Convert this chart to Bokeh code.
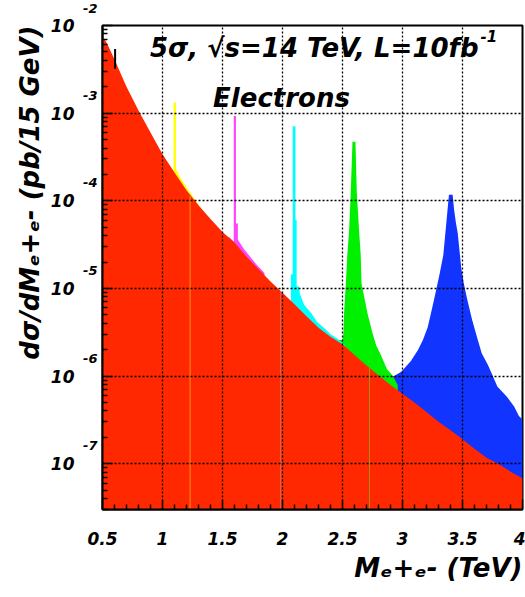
from bokeh.plotting import figure
from bokeh.models import Range1d, FixedTicker, Label, LogAxis, Title
from bokeh.embed import file_html
from bokeh.resources import INLINE

# ---------------- values ----------------
# Drell-Yan background (red), mass in TeV, dsigma/dM in pb / 15 GeV
bg_mass = [0.50, 0.515, 0.54, 0.60, 0.70, 0.80, 0.90, 1.00, 1.10, 1.20, 1.30, 1.40,
           1.50, 1.60, 1.70, 1.80, 1.90, 2.00, 2.10, 2.20, 2.30, 2.40, 2.50, 2.60,
           2.70, 2.80, 2.90, 3.00, 3.10, 3.20, 3.30, 3.40, 3.50, 3.60, 3.70, 3.80,
           3.90, 4.00]
bg_xsec = [7.08e-3, 7.08e-3, 6.17e-3, 4.1e-3, 2.0e-3, 1.07e-3, 6.0e-4, 3.4e-4,
           2.1e-4, 1.32e-4, 8.9e-5, 6.2e-5, 4.4e-5, 3.35e-5, 2.3e-5, 1.66e-5,
           1.2e-5, 8.9e-6, 6.6e-6, 4.8e-6, 3.55e-6, 2.8e-6, 2.3e-6, 1.74e-6,
           1.32e-6, 1.02e-6, 7.9e-7, 6.3e-7, 5.0e-7, 3.9e-7, 3.0e-7, 2.4e-7,
           1.9e-7, 1.48e-7, 1.17e-7, 1.0e-7, 8.1e-8, 6.8e-8]

# signal + background, 1.1 TeV resonance (yellow)
m11_mass = [1.05, 1.093, 1.093, 1.112, 1.112, 1.15, 1.20, 1.25, 1.30]
m11_xsec = [2.6e-4, 2.2e-4, 1.32e-3, 1.32e-3, 2.3e-4, 1.82e-4, 1.43e-4, 1.13e-4, 9.1e-5]

# 1.6 TeV resonance (magenta)
m16_mass = [1.55, 1.594, 1.594, 1.612, 1.612, 1.628, 1.628, 1.68, 1.735, 1.79, 1.85]
m16_xsec = [3.9e-5, 3.4e-5, 9.3e-4, 9.3e-4, 5.5e-5, 5.5e-5, 3.6e-5, 2.8e-5, 2.25e-5,
            1.82e-5, 1.5e-5]

# 2.1 TeV resonance (cyan)
m21_mass = [2.00, 2.070, 2.070, 2.085, 2.085, 2.108, 2.108, 2.118, 2.118, 2.138,
            2.145, 2.18, 2.24, 2.29, 2.35, 2.40, 2.47, 2.52]
m21_xsec = [8.9e-6, 7.1e-6, 1.45e-5, 1.45e-5, 7.1e-4, 7.1e-4, 6.0e-5, 6.0e-5, 1.05e-5,
            1.05e-5, 8.7e-6, 6.5e-6, 5.2e-6, 4.1e-6, 3.5e-6, 3.0e-6, 2.6e-6, 2.24e-6]

# 2.6 TeV resonance (green)
m26_mass = [2.45, 2.50, 2.508, 2.513, 2.528, 2.54, 2.555, 2.569, 2.583, 2.608, 2.619,
            2.638, 2.652, 2.658, 2.708, 2.75, 2.78, 2.82, 2.87, 2.92, 2.96]
m26_xsec = [2.57e-6, 2.57e-6, 3.1e-6, 5.2e-6, 1.15e-5, 2.4e-5, 4.6e-5, 1.26e-4,
            4.7e-4, 4.7e-4, 1.26e-4, 4.6e-5, 2.4e-5, 1.15e-5, 5.2e-6, 3.1e-6, 2.24e-6,
            1.74e-6, 1.2e-6, 1.0e-6, 7.9e-7]

# 3.4 TeV resonance (blue)
m34_mass = [2.80, 2.93, 2.99, 3.07, 3.13, 3.17, 3.21, 3.25, 3.28, 3.31, 3.34, 3.36,
            3.375, 3.387, 3.418, 3.43, 3.445, 3.46, 3.49, 3.51, 3.54, 3.58, 3.62,
            3.66, 3.71, 3.75, 3.79, 3.87, 3.93, 3.97, 4.00]
m34_xsec = [1.0e-6, 1.0e-6, 1.12e-6, 1.48e-6, 2.0e-6, 2.57e-6, 3.6e-6, 6.2e-6, 9.5e-6,
            1.48e-5, 2.4e-5, 4.7e-5, 7.8e-5, 1.17e-4, 1.17e-4, 7.9e-5, 5.6e-5, 4.3e-5,
            1.7e-5, 1.15e-5, 7.4e-6, 4.4e-6, 2.8e-6, 1.82e-6, 1.35e-6, 1.02e-6, 7.6e-7,
            5.8e-7, 4.5e-7, 3.5e-7, 3.2e-7]

# small error bar on the first bins and thin stray bin lines
errbar_mass = [0.605]
errbar_lo = [3.2e-3]
errbar_hi = [5.4e-3]
stray_mass = [1.23, 1.985, 2.725]
stray_top = [1.13e-4, 9.3e-6, 1.3e-6]
stray_color = ["#ff9a1a", "#c07a70", "#9a9a20"]

x_ticks = [0.5, 1.0, 1.5, 2.0, 2.5, 3.0, 3.5, 4.0]
x_tick_labels = ["0.5", "1", "1.5", "2", "2.5", "3", "3.5", "4"]
x_minor = [0.6, 0.7, 0.8, 0.9, 1.1, 1.2, 1.3, 1.4, 1.6, 1.7, 1.8, 1.9, 2.1, 2.2,
           2.3, 2.4, 2.6, 2.7, 2.8, 2.9, 3.1, 3.2, 3.3, 3.4, 3.6, 3.7, 3.8, 3.9]
y_ticks = [1e-2, 1e-3, 1e-4, 1e-5, 1e-6, 1e-7]
y_tick_base = "10"
y_tick_exponents = ["-2", "-3", "-4", "-5", "-6", "-7"]
y_minor_mantissa = [2, 3, 4, 5, 6, 7, 8, 9]
y_minor_decades = [-8, -7, -6, -5, -4, -3]

title_text = "5\u03c3, \u221as=14 TeV, L=10fb"
title_sup = "-1"
channel_text = "Electrons"
x_title = "M\u2091+\u2091- (TeV)"
y_title = "d\u03c3/dM\u2091+\u2091- (pb/15 GeV)"

x_lo, x_hi = 0.5, 4.0
y_lo, y_hi = 3.0e-8, 1.0e-2
floor = 1e-9

# ---------------- figure ----------------
p = figure(width=525, height=597, y_axis_type="log",
           x_range=Range1d(x_lo, x_hi), y_range=Range1d(y_lo, y_hi),
           output_backend="svg", toolbar_location=None,
           min_border_left=102, min_border_right=3,
           min_border_top=25, min_border_bottom=88)
p.background_fill_color = "white"
p.border_fill_color = "white"
p.outline_line_color = "black"
p.outline_line_width = 2

# filled histograms: signal+background first, background on top
fills = [(m34_mass, m34_xsec, "#1234ff"),
         (m26_mass, m26_xsec, "#00f000"),
         (m21_mass, m21_xsec, "#00ffff"),
         (m16_mass, m16_xsec, "#ff44ff"),
         (m11_mass, m11_xsec, "#ffff00"),
         (bg_mass, bg_xsec, "#ff2800")]
for mass, xs, col in fills:
    p.varea(x=mass, y1=[floor] * len(mass), y2=xs, fill_color=col)

p.segment(x0=stray_mass, y0=[y_lo] * len(stray_mass), x1=stray_mass, y1=stray_top,
          line_color=stray_color, line_width=1, line_alpha=0.9)
p.segment(x0=errbar_mass, y0=errbar_lo, x1=errbar_mass, y1=errbar_hi,
          line_color="black", line_width=2)

# ---------------- axes ----------------
FONT = "DejaVu Sans"
p.xaxis.ticker = FixedTicker(ticks=x_ticks, minor_ticks=x_minor)
p.xaxis.major_label_overrides = {t: lab for t, lab in zip(x_ticks, x_tick_labels)}
p.xaxis.major_label_standoff = 22

y_minor = [m * 10.0 ** d for d in y_minor_decades for m in y_minor_mantissa]
# inner left axis: ticks + raised exponents
p.yaxis.ticker = FixedTicker(ticks=y_ticks, minor_ticks=y_minor)
p.yaxis.major_label_overrides = {t: e + "\n\n" for t, e in zip(y_ticks, y_tick_exponents)}
p.yaxis.major_label_standoff = 5

for ax in (p.xaxis[0], p.yaxis[0]):
    ax.axis_line_color = "black"
    ax.axis_line_width = 2
    ax.major_tick_in = 10
    ax.major_tick_out = 0
    ax.minor_tick_in = 5
    ax.minor_tick_out = 0
    ax.major_tick_line_color = "black"
    ax.minor_tick_line_color = "black"
    ax.major_tick_line_width = 1.5
    ax.minor_tick_line_width = 1.5
    ax.major_label_text_font = FONT
    ax.major_label_text_font_style = "bold italic"
    ax.major_label_text_font_size = "17px"
    ax.major_label_text_color = "black"
p.yaxis.major_label_text_font_size = "13px"

# outer left axis: the "10" of each power
ten_axis = LogAxis(ticker=FixedTicker(ticks=y_ticks),
                   major_label_overrides={t: y_tick_base for t in y_ticks},
                   major_label_standoff=0,
                   major_label_text_font=FONT,
                   major_label_text_font_style="bold italic",
                   major_label_text_font_size="17px",
                   major_label_text_color="black",
                   axis_line_color=None, major_tick_line_color=None,
                   minor_tick_line_color=None)
p.add_layout(ten_axis, "left")

# axis titles, right / top aligned as in the reference
p.add_layout(Title(text=x_title, align="right", standoff=6,
                   text_font=FONT, text_font_style="bold italic",
                   text_font_size="26px", text_color="black"), "below")
p.add_layout(Title(text=y_title, align="right", standoff=6,
                   text_font=FONT, text_font_style="bold italic",
                   text_font_size="26px", text_color="black"), "left")

p.xgrid.ticker = FixedTicker(ticks=x_ticks)
p.ygrid.ticker = FixedTicker(ticks=y_ticks)
for g in (p.xgrid[0], p.ygrid[0]):
    g.grid_line_color = "black"
    g.grid_line_width = 1.3
    g.grid_line_dash = "2 2"
    g.level = "overlay"

# ---------------- texts inside the frame (canvas pixel positions) ----------------


def put(text, cx, cy, size, align="left"):
    p.add_layout(Label(x=cx, y=cy, x_units="canvas", y_units="canvas",
                       text=text, text_font=FONT, text_font_style="bold italic",
                       text_font_size=f"{size}px", text_align=align,
                       text_baseline="alphabetic", text_color="black"))


put(title_text, 478, 47, 26, align="right")
put(title_sup, 480, 35, 15)
put(channel_text, 281, 97, 26, align="center")

open("out.html", "w").write(file_html(p, INLINE))
